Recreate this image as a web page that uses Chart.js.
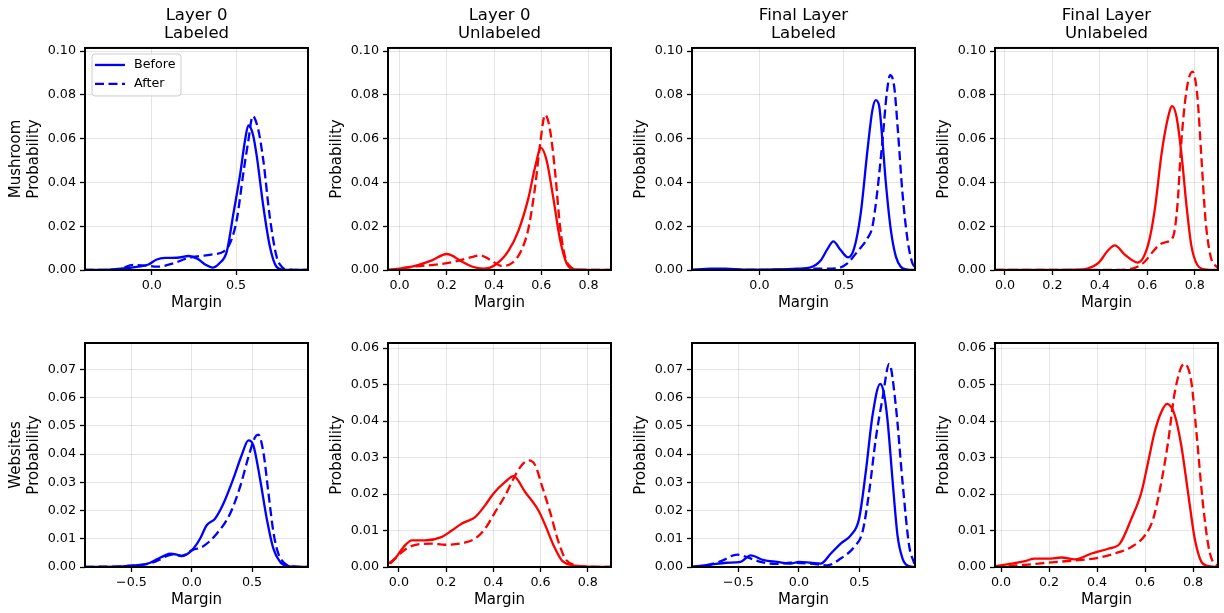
<!DOCTYPE html>
<html>
<head>
<meta charset="utf-8">
<script src="https://cdn.jsdelivr.net/npm/chart.js@4.4.1/dist/chart.umd.min.js"></script>
<style>
  body { margin: 0; background: #fff; }
  #wrap { position: relative; width: 1224px; height: 613px; overflow: hidden; background: #fff; }
  .panel { position: absolute; }
</style>
</head>
<body>
<div id="wrap"></div>
<script>
// ---- values ----
const columnTitles = [["Layer 0", "Labeled"], ["Layer 0", "Unlabeled"], ["Final Layer", "Labeled"], ["Final Layer", "Unlabeled"]];
const rowNames = ["Mushroom", "Websites"];
const seriesNames = ["Before", "After"];

const yTicksMushroom = [0, 0.02, 0.04, 0.06, 0.08, 0.10];
const yTicksWebLabeled = [0, 0.01, 0.02, 0.03, 0.04, 0.05, 0.06, 0.07];
const yTicksWebUnlabeled = [0, 0.01, 0.02, 0.03, 0.04, 0.05, 0.06];
const xTicksHalf = [0, 0.5];
const xTicksHalfWide = [-0.5, 0, 0.5];
const xTicksFifth = [0, 0.2, 0.4, 0.6, 0.8];

// Mushroom row
const mushL0LabBefore = [[-0.40,0],[-0.25,0.0002],[-0.15,0.0008],[-0.08,0.0015],[-0.02,0.0025],[0.03,0.0048],[0.08,0.0055],[0.15,0.0056],[0.22,0.0064],[0.27,0.0052],[0.32,0.0024],[0.36,0.0011],[0.40,0.0030],[0.445,0.0084],[0.485,0.026],[0.525,0.044],[0.553,0.059],[0.573,0.066],[0.60,0.062],[0.623,0.052],[0.662,0.029],[0.70,0.011],[0.74,0.0015],[0.78,0.0002],[0.93,0]];
const mushL0LabAfter = [[-0.40,0],[-0.20,0.0003],[-0.109,0.0023],[-0.03,0.002],[0.03,0.0015],[0.128,0.003],[0.207,0.0053],[0.287,0.0064],[0.366,0.0072],[0.425,0.0084],[0.464,0.0122],[0.504,0.0228],[0.543,0.044],[0.573,0.059],[0.599,0.0703],[0.632,0.064],[0.662,0.050],[0.70,0.0244],[0.741,0.006],[0.771,0.0015],[0.80,0.0003],[0.93,0]];
const mushL0UnlBefore = [[-0.046,0],[0.066,0.0019],[0.137,0.0044],[0.20,0.0073],[0.263,0.0039],[0.306,0.0016],[0.355,0.0006],[0.404,0.0023],[0.46,0.0086],[0.503,0.0179],[0.545,0.0327],[0.573,0.0467],[0.599,0.0558],[0.623,0.0498],[0.651,0.0327],[0.679,0.014],[0.707,0.0031],[0.742,0.0003],[0.895,0]];
const mushL0UnlAfter = [[-0.046,0],[0.066,0.0016],[0.165,0.0026],[0.235,0.0039],[0.306,0.0059],[0.341,0.0067],[0.383,0.0047],[0.432,0.0019],[0.475,0.0031],[0.517,0.0093],[0.545,0.0187],[0.573,0.0374],[0.595,0.0576],[0.616,0.0709],[0.637,0.0639],[0.658,0.0452],[0.679,0.0202],[0.70,0.0062],[0.728,0.0011],[0.77,0],[0.895,0]];
const mushFinLabBefore = [[-0.40,0],[-0.29,0.0006],[-0.20,0.0006],[-0.093,0.0002],[0.105,0.0003],[0.223,0.0006],[0.302,0.0012],[0.362,0.0043],[0.401,0.0094],[0.437,0.0131],[0.48,0.0091],[0.524,0.0058],[0.56,0.0099],[0.599,0.0259],[0.639,0.0548],[0.668,0.073],[0.688,0.0776],[0.708,0.0749],[0.728,0.0586],[0.747,0.0403],[0.777,0.0183],[0.807,0.0061],[0.836,0.0015],[0.876,0.0002],[0.92,0]];
const mushFinLabAfter = [[-0.40,0],[0.20,0.0002],[0.342,0.0006],[0.46,0.0008],[0.52,0.003],[0.579,0.0084],[0.639,0.0145],[0.668,0.0198],[0.698,0.0365],[0.728,0.0594],[0.753,0.0807],[0.773,0.089],[0.797,0.0837],[0.82,0.0624],[0.846,0.035],[0.876,0.0137],[0.905,0.003],[0.92,0.0015]];
const mushFinUnlBefore = [[-0.042,0],[0.295,0.0002],[0.351,0.0008],[0.393,0.0031],[0.435,0.009],[0.463,0.0112],[0.505,0.007],[0.559,0.0034],[0.604,0.0117],[0.632,0.028],[0.66,0.053],[0.685,0.0685],[0.705,0.0748],[0.723,0.070],[0.744,0.053],[0.765,0.0296],[0.786,0.0109],[0.811,0.0023],[0.842,0.0003],[0.898,0]];
const mushFinUnlAfter = [[-0.042,0],[0.45,0],[0.519,0.0003],[0.561,0.0016],[0.59,0.0039],[0.625,0.0086],[0.653,0.0117],[0.681,0.0128],[0.709,0.0153],[0.727,0.0296],[0.744,0.0592],[0.765,0.0818],[0.79,0.0906],[0.811,0.0794],[0.828,0.0514],[0.845,0.0234],[0.867,0.0062],[0.891,0.0016],[0.898,0.001]];

// Websites row
const webL0LabBefore = [[-0.885,0],[-0.62,0.0001],[-0.483,0.0006],[-0.373,0.0011],[-0.29,0.0027],[-0.221,0.0041],[-0.18,0.0047],[-0.124,0.0044],[-0.083,0.0039],[0,0.0059],[0.069,0.010],[0.124,0.0148],[0.193,0.0171],[0.262,0.0224],[0.345,0.0313],[0.414,0.0396],[0.47,0.0449],[0.511,0.0431],[0.566,0.0313],[0.622,0.0171],[0.677,0.0065],[0.732,0.0018],[0.787,0.0004],[0.964,0]];
const webL0LabAfter = [[-0.885,0],[-0.483,0.0005],[-0.345,0.0013],[-0.262,0.0027],[-0.207,0.0039],[-0.152,0.0045],[-0.083,0.0039],[0,0.0059],[0.097,0.0074],[0.207,0.0118],[0.318,0.0189],[0.40,0.0283],[0.47,0.039],[0.525,0.046],[0.552,0.0469],[0.594,0.0407],[0.635,0.0266],[0.677,0.0124],[0.718,0.0047],[0.773,0.0012],[0.829,0.0002],[0.964,0]];
const webL0UnlBefore = [[-0.046,0.0009],[-0.016,0.0023],[0.02,0.0055],[0.055,0.0073],[0.11,0.0073],[0.18,0.0082],[0.224,0.010],[0.267,0.0119],[0.323,0.0137],[0.365,0.0169],[0.40,0.0201],[0.45,0.0233],[0.485,0.0249],[0.535,0.0205],[0.591,0.0155],[0.62,0.0114],[0.655,0.0059],[0.69,0.0018],[0.732,0.0005],[0.80,0.0001],[0.898,0]];
const webL0UnlAfter = [[-0.037,0.0009],[0.013,0.0041],[0.055,0.0058],[0.14,0.0064],[0.196,0.0061],[0.28,0.0067],[0.323,0.0078],[0.365,0.0105],[0.408,0.0151],[0.45,0.0196],[0.485,0.0242],[0.52,0.0279],[0.549,0.0292],[0.577,0.0279],[0.605,0.0224],[0.64,0.0151],[0.676,0.0068],[0.704,0.0023],[0.746,0.0005],[0.80,0.0001],[0.898,0]];
const webFinLabBefore = [[-0.884,0.0001],[-0.735,0.0008],[-0.597,0.0015],[-0.483,0.0018],[-0.40,0.0041],[-0.29,0.0024],[-0.18,0.0018],[-0.07,0.0012],[0,0.0018],[0.097,0.0015],[0.18,0.0012],[0.262,0.0047],[0.345,0.0083],[0.428,0.0112],[0.497,0.0171],[0.552,0.0336],[0.608,0.0537],[0.671,0.0649],[0.70,0.062],[0.732,0.052],[0.773,0.031],[0.815,0.011],[0.856,0.003],[0.898,0.0005],[0.959,0]];
const webFinLabAfter = [[-0.884,0],[-0.79,0.0004],[-0.65,0.002],[-0.51,0.0044],[-0.43,0.0035],[-0.318,0.0018],[-0.18,0.0011],[-0.07,0.0015],[0.097,0.0012],[0.235,0.0006],[0.345,0.003],[0.456,0.0071],[0.525,0.0124],[0.58,0.0266],[0.635,0.0455],[0.69,0.0596],[0.746,0.072],[0.80,0.0573],[0.856,0.0301],[0.91,0.0077],[0.953,0.0012]];
const webFinUnlBefore = [[-0.025,0.0002],[0.044,0.0009],[0.10,0.0016],[0.14,0.0023],[0.197,0.0023],[0.252,0.0026],[0.308,0.0021],[0.377,0.0037],[0.446,0.005],[0.495,0.0064],[0.543,0.0132],[0.585,0.0205],[0.613,0.0288],[0.64,0.037],[0.668,0.0425],[0.692,0.0447],[0.724,0.0416],[0.751,0.0333],[0.779,0.0205],[0.807,0.0078],[0.835,0.0014],[0.862,0.0003],[0.904,0]];
const webFinUnlAfter = [[-0.025,0.0001],[0.10,0.0006],[0.197,0.0012],[0.308,0.0018],[0.405,0.0025],[0.474,0.0037],[0.543,0.0055],[0.60,0.0087],[0.634,0.0132],[0.668,0.0233],[0.696,0.0342],[0.724,0.0479],[0.763,0.0557],[0.793,0.0507],[0.814,0.037],[0.842,0.0169],[0.869,0.0041],[0.897,0.0006],[0.904,0.0005]];

const BLUE = "#0000ff", RED = "#ff0000";

// axis limits for each subplot
const panels = [
  { row: 0, col: 0, before: mushL0LabBefore, after: mushL0LabAfter, color: BLUE, xMin: -0.396, xMax: 0.927, yMax: 0.1014, xTicks: xTicksHalf, yTicks: yTicksMushroom, legend: true },
  { row: 0, col: 1, before: mushL0UnlBefore, after: mushL0UnlAfter, color: RED, xMin: -0.049, xMax: 0.895, yMax: 0.1014, xTicks: xTicksFifth, yTicks: yTicksMushroom },
  { row: 0, col: 2, before: mushFinLabBefore, after: mushFinLabAfter, color: BLUE, xMin: -0.399, xMax: 0.92, yMax: 0.1014, xTicks: xTicksHalf, yTicks: yTicksMushroom },
  { row: 0, col: 3, before: mushFinUnlBefore, after: mushFinUnlAfter, color: RED, xMin: -0.042, xMax: 0.898, yMax: 0.1014, xTicks: xTicksFifth, yTicks: yTicksMushroom },
  { row: 1, col: 0, before: webL0LabBefore, after: webL0LabAfter, color: BLUE, xMin: -0.885, xMax: 0.964, yMax: 0.0794, xTicks: xTicksHalfWide, yTicks: yTicksWebLabeled },
  { row: 1, col: 1, before: webL0UnlBefore, after: webL0UnlAfter, color: RED, xMin: -0.046, xMax: 0.898, yMax: 0.0614, xTicks: xTicksFifth, yTicks: yTicksWebUnlabeled },
  { row: 1, col: 2, before: webFinLabBefore, after: webFinLabAfter, color: BLUE, xMin: -0.884, xMax: 0.959, yMax: 0.0794, xTicks: xTicksHalfWide, yTicks: yTicksWebLabeled },
  { row: 1, col: 3, before: webFinUnlBefore, after: webFinUnlAfter, color: RED, xMin: -0.025, xMax: 0.904, yMax: 0.0614, xTicks: xTicksFifth, yTicks: yTicksWebUnlabeled },
];

const colLeft = [0, 303, 607, 910];
const rowTop = [0, 295];
const rowHeight = [315, 317];

Chart.defaults.font.family = '"DejaVu Sans", sans-serif';
Chart.defaults.color = "#000";

// full black box round the plot area, like matplotlib spines
const frameBox = {
  id: "frameBox",
  afterDatasetsDraw(chart) {
    const { ctx, chartArea: a } = chart;
    ctx.save();
    ctx.strokeStyle = "#000";
    ctx.lineWidth = 2;
    ctx.strokeRect(a.left, a.top, a.right - a.left, a.bottom - a.top);
    ctx.restore();
  }
};

// legend drawn inside the upper-left corner of the plot
const insideLegend = {
  id: "insideLegend",
  afterDraw(chart, args, opts) {
    if (!opts.show) return;
    const { ctx, chartArea } = chart;
    const x0 = chartArea.left + 7, y0 = chartArea.top + 6;
    ctx.save();
    ctx.beginPath();
    ctx.roundRect(x0, y0, 89, 42, 3);
    ctx.fillStyle = "rgba(255,255,255,0.8)";
    ctx.fill();
    ctx.strokeStyle = "#cccccc";
    ctx.lineWidth = 1;
    ctx.stroke();
    chart.data.datasets.forEach((ds, i) => {
      const y = y0 + 11 + i * 19;
      ctx.beginPath();
      ctx.setLineDash(ds.borderDash || []);
      ctx.strokeStyle = ds.borderColor;
      ctx.lineWidth = ds.borderWidth;
      ctx.moveTo(x0 + 3, y);
      ctx.lineTo(x0 + 33, y);
      ctx.stroke();
      ctx.setLineDash([]);
      ctx.fillStyle = "#000";
      ctx.font = '12.7px "DejaVu Sans"';
      ctx.textBaseline = "middle";
      ctx.fillText(ds.label, x0 + 42, y);
    });
    ctx.restore();
  }
};

const fmtX = v => (v < 0 ? "\u2212" : "") + Math.abs(v).toFixed(1);
const fmtY = v => v.toFixed(2);

panels.forEach((p) => {
  const div = document.createElement("div");
  div.className = "panel";
  div.style.left = colLeft[p.col] + "px";
  div.style.top = rowTop[p.row] + "px";
  const canvas = document.createElement("canvas");
  canvas.width = 312;
  canvas.height = rowHeight[p.row];
  div.appendChild(canvas);
  document.getElementById("wrap").appendChild(div);

  const yTitle = p.col === 0 ? [rowNames[p.row], "Probability"] : "Probability";
  const yTitleLines = Array.isArray(yTitle) ? yTitle.length : 1;

  new Chart(canvas, {
    type: "line",
    data: {
      datasets: [
        { label: seriesNames[0], data: p.before.map(([x, y]) => ({ x, y })), borderColor: p.color, borderWidth: 2.3 },
        { label: seriesNames[1], data: p.after.map(([x, y]) => ({ x, y })), borderColor: p.color, borderWidth: 2.3, borderDash: [9, 4.5] }
      ]
    },
    options: {
      responsive: false,
      animation: false,
      devicePixelRatio: 1,
      cubicInterpolationMode: "monotone",
      elements: { point: { radius: 0 }, line: { fill: false } },
      layout: { padding: { top: p.row === 0 ? 0 : 48, right: 4, left: 0, bottom: 0 } },
      plugins: {
        legend: { display: false },
        tooltip: { enabled: false },
        title: {
          display: p.row === 0,
          text: columnTitles[p.col],
          fullSize: false,
          color: "#000",
          font: { size: 16.5, weight: "normal", lineHeight: 1.12 },
          padding: { top: 6, bottom: 5 }
        },
        insideLegend: { show: !!p.legend }
      },
      scales: {
        x: {
          type: "linear",
          min: p.xMin,
          max: p.xMax,
          afterBuildTicks: s => { s.ticks = p.xTicks.map(v => ({ value: v })); },
          afterFit: s => { s.height = 45; },
          border: { display: false },
          grid: { color: "rgba(0,0,0,0.1)", lineWidth: 1, tickLength: 5, tickColor: "#000", tickWidth: 1.3 },
          ticks: { padding: 3, autoSkip: false, maxRotation: 0, color: "#000", font: { size: 12.7 }, callback: v => fmtX(v) },
          title: { display: true, text: "Margin", color: "#000", font: { size: 15, lineHeight: 1.2 }, padding: { top: 0, bottom: 2.5 } }
        },
        y: {
          type: "linear",
          min: 0,
          max: p.yMax,
          afterBuildTicks: s => { s.ticks = p.yTicks.map(v => ({ value: v })); },
          afterFit: s => { s.width = 85; },
          border: { display: false },
          grid: { color: "rgba(0,0,0,0.1)", lineWidth: 1, tickLength: 5, tickColor: "#000", tickWidth: 1.3 },
          ticks: { padding: 4, autoSkip: false, color: "#000", font: { size: 12.7 }, callback: v => fmtY(v) },
          title: { display: true, text: yTitle, color: "#000", font: { size: 15, lineHeight: 1.2 }, padding: { top: 34 - 9 - (yTitleLines - 1) * 18.3, bottom: 0 } }
        }
      }
    },
    plugins: [frameBox, insideLegend]
  });
});
</script>
</body>
</html>
